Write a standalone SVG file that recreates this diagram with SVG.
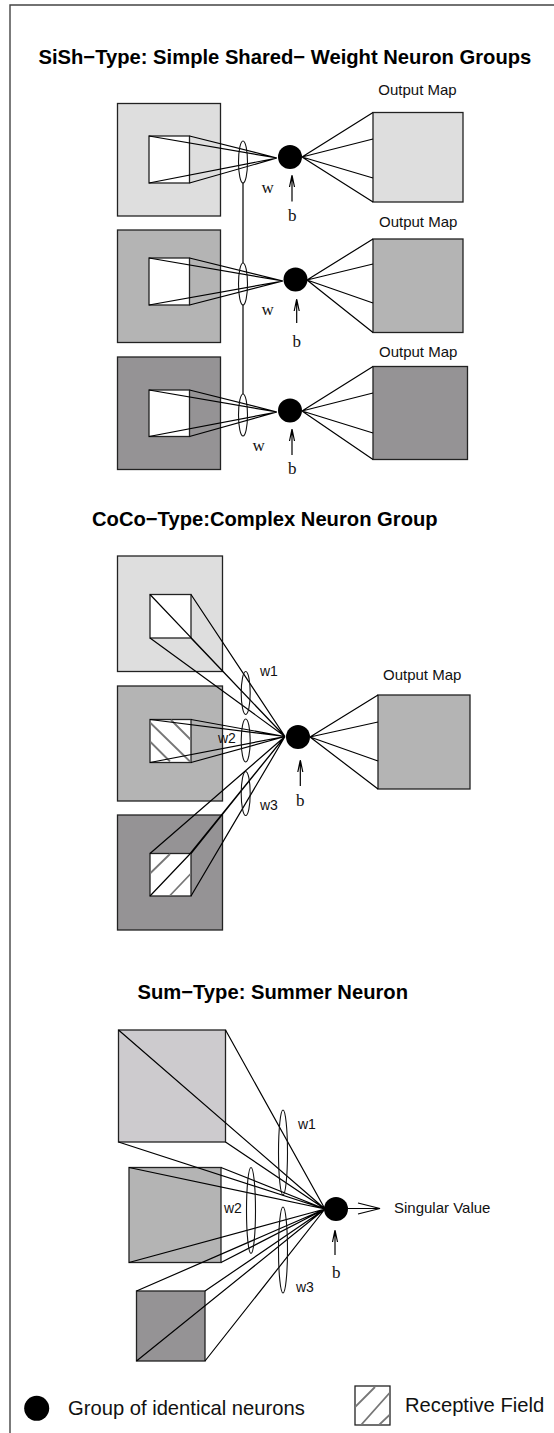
<svg xmlns="http://www.w3.org/2000/svg" width="554" height="1433" viewBox="0 0 554 1433">
<style>
.s{stroke:#222;stroke-width:1.3}
.l{fill:none;stroke:#000;stroke-width:1.2}
.e{fill:none;stroke:#111;stroke-width:1.1}
.w{fill:#fff;stroke:#222;stroke-width:1.3}
.h{stroke:#777;stroke-width:1.8;fill:none}
.n{fill:#000}
.t{font-family:"Liberation Sans",Arial,sans-serif;fill:#111}
.r{font-family:"Liberation Serif","Times New Roman",serif;fill:#111}
.b{font-family:"Liberation Sans",Arial,sans-serif;font-weight:700;font-size:20.2px;fill:#000}
.m{font-size:15px}
.q{font-size:14px}
.k{font-size:20.2px}
</style>
<defs><clipPath id="c4"><rect x="355" y="1386" width="35" height="39"/></clipPath></defs>
<rect width="554" height="1433" fill="#fff"/>
<path id="frame" d="M10 1433V5H554" fill="none" stroke="#444" stroke-width="1.4"/>
<text class="b" x="38.500" y="64">SiSh−Type: Simple Shared− Weight Neuron Groups</text>
<text class="b" x="92" y="526">CoCo−Type:Complex Neuron Group</text>
<text class="b" x="137.500" y="999">Sum−Type: Summer Neuron</text>

<g id="sish1"><rect class="s" x="117.5" y="103.5" width="103" height="112.500" fill="#dedede"/><rect class="w" x="149" y="136" width="40.5" height="47"/></g>
<g id="sish2"><rect class="s" x="117.5" y="230" width="103" height="112.500" fill="#b4b4b4"/><rect class="w" x="149" y="258" width="40.5" height="47"/></g>
<g id="sish3"><rect class="s" x="117.5" y="357" width="103" height="112.5" fill="#959395"/><rect class="w" x="149" y="390" width="40.5" height="46.5"/></g>
<g id="out1"><rect class="s" x="373" y="112.5" width="90" height="89.5" fill="#dedede"/><text class="t m" x="378.300" y="95">Output Map</text></g>
<g id="out2"><rect class="s" x="373" y="239" width="90" height="93.5" fill="#b4b4b4"/><text class="t m" x="379" y="226.500">Output Map</text></g>
<g id="out3"><rect class="s" x="373" y="366.5" width="94.5" height="93" fill="#959395"/><text class="t m" x="379" y="356.500">Output Map</text></g>

<g id="coco1"><rect class="s" x="117.5" y="556" width="105" height="115.500" fill="#dedede"/><rect class="w" x="150" y="594.500" width="41" height="43.500"/></g>
<g id="coco2"><rect class="s" x="117.5" y="686" width="105" height="115" fill="#b4b4b4"/><rect class="w" x="150" y="719.500" width="41" height="43"/>
<path class="h" d="M150.500 742L170 761.500M150.500 723L190 761.500M171 720L190.500 739.500"/></g>
<g id="coco3"><rect class="s" x="117.5" y="815" width="105" height="115" fill="#959395"/><rect class="w" x="150" y="853.500" width="41" height="42.500"/>
<path class="h" d="M150.500 873L170 854M170 895.500L190.500 874"/></g>
<g id="outc"><rect class="s" x="378" y="695" width="92" height="94" fill="#b4b4b4"/><text class="t m" x="383" y="680">Output Map</text></g>

<g id="sum1"><rect class="s" x="118.500" y="1030" width="107" height="112" fill="#cdcbce"/></g>
<g id="sum2"><rect class="s" x="129" y="1167.500" width="92" height="95" fill="#b4b4b4"/></g>
<g id="sum3"><rect class="s" x="136.500" y="1291" width="68.500" height="70" fill="#959395"/></g>

<g id="connectors">
<path class="l" d="M149 136L277 158M189.500 136L277 158M149 183L277 158M189.500 183L277 158M302 157L373 112.500M302 157L373 139M302 157L373 178M302 157L373 202"/>
<path class="l" d="M149 258L283 281M189.500 258L283 281M149 305L283 281M189.500 305L283 281M307 280L373 239M307 280L373 264M307 280L373 303M307 280L373 332.500"/>
<path class="l" d="M149 390L277 412M189.500 390L277 412M149 436.500L277 412M189.500 436.500L277 412M302 411L373 366.500M302 411L373 393M302 411L373 433M302 411L373 459.500"/>
<path class="l" d="M243 183V263M243 305V394"/>
<ellipse class="e" cx="243" cy="162" rx="4.500" ry="21"/><ellipse class="e" cx="243" cy="284" rx="4.500" ry="21"/><ellipse class="e" cx="243" cy="415" rx="4.500" ry="21"/>
<path class="l" d="M292 201.500V175M292 175L289.500 187M292 175L294.500 187M296.700 323V299M296.700 299L294.200 311M296.700 299L299.200 311M292 455V429M292 429L289.500 441M292 429L294.500 441"/>
<path class="l" d="M150 594.500L285 736.500M191 594.500L285 736.500M150 638L285 736.500M191 638L285 736.500M150 719.500L285 736.500M191 719.500L285 736.500M150 762.500L285 736.500M191 762.500L285 736.500M150 853.500L285 736.500M191 853.500L285 736.500M150 896L189 855L285 736.500M191 896L285 736.500M310 737L378 695M310 737L378 722M310 737L378 761M310 737L378 789"/>
<ellipse class="e" cx="245.700" cy="693" rx="4.500" ry="21.500"/><ellipse class="e" cx="245.700" cy="740.500" rx="4.500" ry="21.500"/><ellipse class="e" cx="245.700" cy="793.500" rx="4.500" ry="22"/>
<path class="l" d="M300.300 786V760M300.300 760L297.800 772M300.300 760L302.800 772"/>
<path class="l" d="M118.500 1030L325 1209M225.500 1030L325 1209M118.500 1142L325 1209M225.500 1142L325 1209M129 1167.500L325 1209M221 1167.500L325 1209M129 1262.500L325 1209M221 1262.500L325 1209M136.500 1291L325 1209M205 1291L325 1209M136.500 1361L325 1209M205 1361L325 1209"/>
<ellipse class="e" cx="283" cy="1152.500" rx="4.500" ry="42.500"/><ellipse class="e" cx="251" cy="1210.500" rx="4.500" ry="43"/><ellipse class="e" cx="283" cy="1250" rx="4.500" ry="43"/>
<path class="l" d="M348 1208.500H380M358 1203L380 1208.500L358 1214"/>
<path class="l" d="M335 1255V1230M335 1230L332.500 1242M335 1230L337.500 1242"/>
</g>

<g id="n1"><circle class="n" cx="290" cy="157" r="12"/></g>
<g id="n2"><circle class="n" cx="295.500" cy="279.500" r="12"/></g>
<g id="n3"><circle class="n" cx="290" cy="410.500" r="12"/></g>
<g id="n4"><circle class="n" cx="298" cy="737" r="12"/></g>
<g id="n5"><circle class="n" cx="336" cy="1209" r="12"/></g>

<g font-size="17">
<text class="r" x="261.500" y="193">w</text><text class="r" x="288" y="221">b</text>
<text class="r" x="261.500" y="315">w</text><text class="r" x="292.500" y="346.500">b</text>
<text class="r" x="252.500" y="451">w</text><text class="r" x="288" y="474">b</text>
<text class="r" x="296" y="806">b</text><text class="r" x="332" y="1278">b</text>
</g>
<g>
<text class="t q" x="260" y="676">w1</text><text class="t q" x="218" y="743">w2</text><text class="t q" x="260" y="810">w3</text>
<text class="t q" x="298" y="1129">w1</text><text class="t q" x="224" y="1213">w2</text><text class="t q" x="296" y="1292">w3</text>
<text class="t m" x="394" y="1213">Singular Value</text>
</g>
<g id="legend1"><circle class="n" cx="36.700" cy="1408.300" r="12.500"/><text class="t k" x="68" y="1415">Group of identical neurons</text></g>
<g id="legend2"><rect x="355" y="1386" width="35" height="39" fill="#fff" stroke="#222" stroke-width="1.300"/><path class="h" clip-path="url(#c4)" d="M355 1407L375 1387M361 1425L389.500 1393M379 1425L389.500 1415"/><text class="t k" x="405" y="1412">Receptive Field</text></g>
</svg>
